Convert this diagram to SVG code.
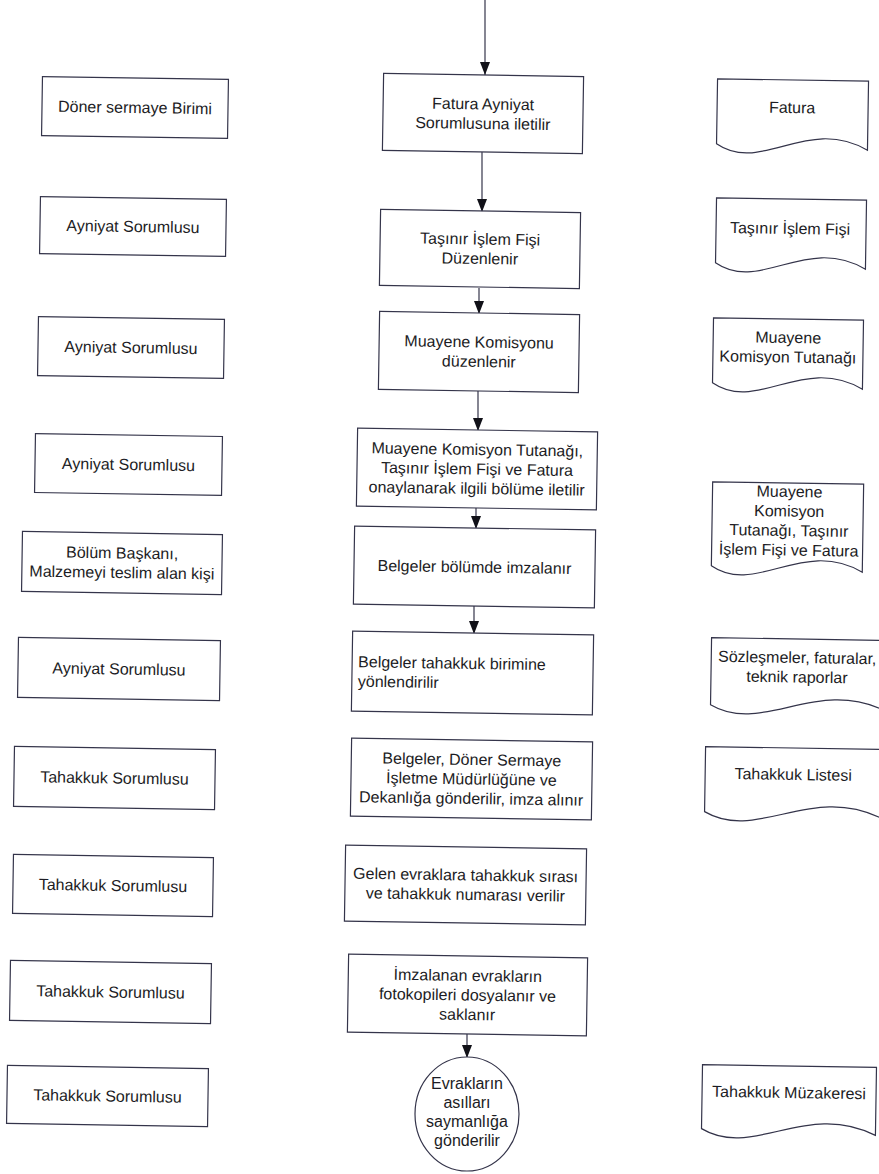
<svg xmlns="http://www.w3.org/2000/svg" width="879" height="1174" viewBox="0 0 879 1174">
  <style>
    .box { fill: #ffffff; stroke: #34344a; stroke-width: 1.2; }
    .doc { fill: #ffffff; stroke: #34344a; stroke-width: 1.2; }
    .t { font-family: "Liberation Sans", Arial, sans-serif; font-size: 16px; fill: #1c1c24; text-anchor: middle; }
    .tl { font-family: "Liberation Sans", Arial, sans-serif; font-size: 16px; fill: #1c1c24; text-anchor: start; }
    .flow { stroke: #34344a; stroke-width: 1.2; fill: none; marker-end: url(#head); }
  </style>
  <defs>
    <marker id="head" viewBox="0 0 13 10" refX="13" refY="5" markerWidth="13" markerHeight="10" markerUnits="userSpaceOnUse" orient="auto">
      <path d="M0,0 L13,5 L0,10 z" fill="#111118"/>
    </marker>
  </defs>
  <rect width="879" height="1174" fill="#ffffff"/>

  <!-- flow connectors -->
  <g id="connectors">
    <line class="flow" x1="485" y1="0" x2="485" y2="75"/>
    <line class="flow" x1="482" y1="152" x2="482" y2="212"/>
    <line class="flow" x1="479" y1="288" x2="479" y2="314"/>
    <line class="flow" x1="478" y1="391" x2="478" y2="431"/>
    <line class="flow" x1="476" y1="508" x2="476" y2="529"/>
    <line class="flow" x1="474" y1="606" x2="474" y2="634"/>
    <line class="flow" x1="467" y1="1034" x2="467" y2="1058"/>
  </g>

  <!-- responsible units (left column) -->
  <g id="unit1" transform="rotate(0.9 135 107.5)">
    <rect class="box" x="42" y="78" width="186" height="59"/>
    <text class="t" x="135" y="113">Döner sermaye Birimi</text>
  </g>
  <g id="unit2" transform="rotate(0.9 133 226.5)">
    <rect class="box" x="40" y="198" width="186" height="57"/>
    <text class="t" x="133" y="232">Ayniyat Sorumlusu</text>
  </g>
  <g id="unit3" transform="rotate(0.9 131 347.5)">
    <rect class="box" x="38" y="318" width="186" height="59"/>
    <text class="t" x="131" y="353">Ayniyat Sorumlusu</text>
  </g>
  <g id="unit4" transform="rotate(0.9 128.5 464.5)">
    <rect class="box" x="35" y="435" width="187" height="59"/>
    <text class="t" x="128.5" y="470">Ayniyat Sorumlusu</text>
  </g>
  <g id="unit5" transform="rotate(0.9 122 563)">
    <rect class="box" x="22" y="533" width="200" height="60"/>
    <text class="t" x="122" y="558.5">Bölüm Başkanı,</text>
    <text class="t" x="122" y="578">Malzemeyi teslim alan kişi</text>
  </g>
  <g id="unit6" transform="rotate(0.9 119 669)">
    <rect class="box" x="18" y="639" width="202" height="60"/>
    <text class="t" x="119" y="674.5">Ayniyat Sorumlusu</text>
  </g>
  <g id="unit7" transform="rotate(0.9 114.5 778)">
    <rect class="box" x="14" y="748" width="201" height="60"/>
    <text class="t" x="114.5" y="783.5">Tahakkuk Sorumlusu</text>
  </g>
  <g id="unit8" transform="rotate(0.9 113 885.5)">
    <rect class="box" x="13" y="856" width="200" height="59"/>
    <text class="t" x="113" y="891">Tahakkuk Sorumlusu</text>
  </g>
  <g id="unit9" transform="rotate(0.9 110.5 992)">
    <rect class="box" x="10" y="962" width="201" height="60"/>
    <text class="t" x="110.5" y="997.5">Tahakkuk Sorumlusu</text>
  </g>
  <g id="unit10" transform="rotate(0.9 107.5 1096)">
    <rect class="box" x="7" y="1067" width="201" height="58"/>
    <text class="t" x="107.5" y="1101.5">Tahakkuk Sorumlusu</text>
  </g>

  <!-- process steps (centre column) -->
  <g id="step1" transform="rotate(0.9 483 113.5)">
    <rect class="box" x="383" y="75" width="200" height="77"/>
    <text class="t" x="483" y="109.5">Fatura Ayniyat</text>
    <text class="t" x="483" y="129">Sorumlusuna iletilir</text>
  </g>
  <g id="step2" transform="rotate(0.9 480 249)">
    <rect class="box" x="380" y="211" width="200" height="76"/>
    <text class="t" x="480" y="244.5">Taşınır İşlem Fişi</text>
    <text class="t" x="480" y="264">Düzenlenir</text>
  </g>
  <g id="step3" transform="rotate(0.9 479 352)">
    <rect class="box" x="379" y="313" width="200" height="78"/>
    <text class="t" x="479" y="347.5">Muayene Komisyonu</text>
    <text class="t" x="479" y="367">düzenlenir</text>
  </g>
  <g id="step4" transform="rotate(0.9 477 469)">
    <rect class="box" x="357" y="430" width="240" height="78"/>
    <text class="t" x="477" y="455">Muayene Komisyon Tutanağı,</text>
    <text class="t" x="477" y="474.5">Taşınır İşlem Fişi ve Fatura</text>
    <text class="t" x="477" y="494">onaylanarak ilgili bölüme iletilir</text>
  </g>
  <g id="step5" transform="rotate(0.9 474.5 567)">
    <rect class="box" x="354" y="528" width="241" height="78"/>
    <text class="t" x="474.5" y="572.5">Belgeler bölümde imzalanır</text>
  </g>
  <g id="step6" transform="rotate(0.9 472.5 673)">
    <rect class="box" x="352" y="633" width="241" height="80"/>
    <text class="tl" x="358" y="669">Belgeler tahakkuk birimine</text>
    <text class="tl" x="358" y="688.5">yönlendirilir</text>
  </g>
  <g id="step7" transform="rotate(0.9 471.5 779)">
    <rect class="box" x="351" y="740" width="241" height="78"/>
    <text class="t" x="471.5" y="765">Belgeler, Döner Sermaye</text>
    <text class="t" x="471.5" y="784.5">İşletme Müdürlüğüne ve</text>
    <text class="t" x="471.5" y="804">Dekanlığa gönderilir, imza alınır</text>
  </g>
  <g id="step8" transform="rotate(0.9 465.5 885)">
    <rect class="box" x="345" y="847" width="241" height="76"/>
    <text class="t" x="465.5" y="880.5">Gelen evraklara tahakkuk sırası</text>
    <text class="t" x="465.5" y="900">ve tahakkuk numarası verilir</text>
  </g>
  <g id="step9" transform="rotate(0.9 467.5 995)">
    <rect class="box" x="348" y="956" width="239" height="78"/>
    <text class="t" x="467.5" y="981">İmzalanan evrakların</text>
    <text class="t" x="467.5" y="1000.5">fotokopileri dosyalanır ve</text>
    <text class="t" x="467.5" y="1020">saklanır</text>
  </g>
  <g id="end">
    <ellipse class="box" cx="467" cy="1114" rx="52" ry="57"/>
    <text class="t" x="467" y="1089">Evrakların</text>
    <text class="t" x="467" y="1108">asılları</text>
    <text class="t" x="467" y="1127">saymanlığa</text>
    <text class="t" x="467" y="1146">gönderilir</text>
  </g>

  <!-- documents (right column) -->
  <g id="doc1" transform="rotate(0.9 792 115)">
    <path class="doc" d="M717,80 H868 V149 C807,115 762,175 717,145 Z"/>
    <text class="t" x="792" y="113">Fatura</text>
  </g>
  <g id="doc2" transform="rotate(0.9 791 233)">
    <path class="doc" d="M716,199 H866 V268 C806,234 761,294 716,264 Z"/>
    <text class="t" x="790" y="234">Taşınır İşlem Fişi</text>
  </g>
  <g id="doc3" transform="rotate(0.9 788 352)">
    <path class="doc" d="M713,319 H863 V388 C803,354 758,414 713,384 Z"/>
    <text class="t" x="788" y="343">Muayene</text>
    <text class="t" x="788" y="362.5">Komisyon Tutanağı</text>
  </g>
  <g id="doc5" transform="rotate(0.9 788 525)">
    <path class="doc" d="M712,483 H863 V571 C803,537 757,597 712,567 Z"/>
    <text class="t" x="789" y="497">Muayene</text>
    <text class="t" x="789" y="516.5">Komisyon</text>
    <text class="t" x="789" y="536">Tutanağı, Taşınır</text>
    <text class="t" x="789" y="555.5">İşlem Fişi ve Fatura</text>
  </g>
  <g id="doc6" transform="rotate(0.9 797 675)">
    <path class="doc" d="M711,639 H887 V710 C816,676 764,736 711,706 Z"/>
    <text class="t" x="797" y="663">Sözleşmeler, faturalar,</text>
    <text class="t" x="797" y="682.5">teknik raporlar</text>
  </g>
  <g id="doc7" transform="rotate(0.9 793 785)">
    <path class="doc" d="M705,748 H882 V817 C811,783 758,843 705,813 Z"/>
    <text class="t" x="793" y="780">Tahakkuk Listesi</text>
  </g>
  <g id="doc10" transform="rotate(0.9 789 1098)">
    <path class="doc" d="M702,1066 H876 V1134 C806,1100 754,1160 702,1130 Z"/>
    <text class="t" x="789" y="1098">Tahakkuk Müzakeresi</text>
  </g>
</svg>
